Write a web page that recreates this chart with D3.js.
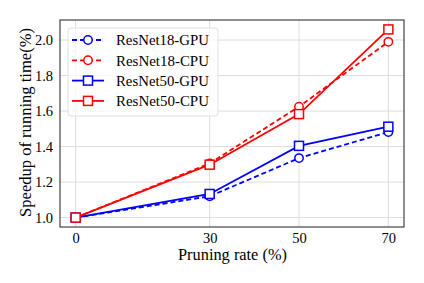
<!DOCTYPE html>
<html><head><meta charset="utf-8">
<script src="https://cdn.jsdelivr.net/npm/d3@7/dist/d3.min.js"></script>
<style>body{margin:0;background:#fff}svg{display:block}</style>
</head><body>
<svg id="c" width="424" height="283"></svg>
<script>
const rates = [0, 30, 50, 70];
const xTicks = [0, 30, 50, 70];
const yTicks = [1.0, 1.2, 1.4, 1.6, 1.8, 2.0];
const seriesNames = ["ResNet18-GPU", "ResNet18-CPU", "ResNet50-GPU", "ResNet50-CPU"];
const resnet18GPU = [1.0, 1.12, 1.335, 1.482];
const resnet18CPU = [1.0, 1.305, 1.625, 1.99];
const resnet50GPU = [1.0, 1.133, 1.404, 1.512];
const resnet50CPU = [1.0, 1.298, 1.583, 2.06];

const series = [
  {name: seriesNames[0], values: resnet18GPU, color: "#0000ff", dash: "5,3", marker: "circle"},
  {name: seriesNames[1], values: resnet18CPU, color: "#ff0000", dash: "5,3", marker: "circle"},
  {name: seriesNames[2], values: resnet50GPU, color: "#0000ff", dash: null, marker: "square"},
  {name: seriesNames[3], values: resnet50CPU, color: "#ff0000", dash: null, marker: "square"}
];

const svg = d3.select("#c");
const L = 60, R = 404, T = 20, B = 227;
const x = d3.scaleLinear().domain([-3.5, 73.5]).range([L, R]);
const y = d3.scaleLinear().domain([0.947, 2.113]).range([B, T]);
const font = "'Liberation Serif','Times New Roman',serif";

function fitWidth(sel, target, base) {
  sel.attr("font-size", base);
  const w = sel.node().getComputedTextLength();
  if (w > 0) sel.attr("font-size", base * target / w);
}

// grid
svg.append("g").selectAll("line").data(xTicks).join("line")
  .attr("x1", d => x(d)).attr("x2", d => x(d)).attr("y1", T).attr("y2", B)
  .attr("stroke", "#dcdcdc").attr("stroke-width", 1);
svg.append("g").selectAll("line").data(yTicks).join("line")
  .attr("y1", d => y(d)).attr("y2", d => y(d)).attr("x1", L).attr("x2", R)
  .attr("stroke", "#dcdcdc").attr("stroke-width", 1);

// axes
const xAxis = svg.append("g").attr("transform", `translate(0,${B})`)
  .call(d3.axisBottom(x).tickValues(xTicks).tickSize(0).tickPadding(6).tickFormat(d3.format("d")));
const yAxis = svg.append("g").attr("transform", `translate(${L},0)`)
  .call(d3.axisLeft(y).tickValues(yTicks).tickSize(0).tickPadding(7).tickFormat(d3.format(".1f")));
[xAxis, yAxis].forEach(a => {
  a.select(".domain").remove();
  a.selectAll("text").attr("font-family", font).attr("font-size", 14).attr("fill", "#000");
});
{
  const t = xAxis.selectAll("text").filter(d => d === 30);
  const w = t.node().getComputedTextLength();
  const fs = 14 * 14.5 / w;
  xAxis.selectAll("text").attr("font-size", fs).attr("dy", null).attr("y", 15.5);
  yAxis.selectAll("text").attr("font-size", fs);
}

// frame
svg.append("rect").attr("x", L).attr("y", T).attr("width", R - L).attr("height", B - T)
  .attr("fill", "none").attr("stroke", "#444").attr("stroke-width", 1.2);

// lines
const line = d3.line().x((d, i) => x(rates[i])).y(d => y(d));
function drawMarker(g, type, cx, cy, color) {
  if (type === "circle") {
    g.append("circle").attr("cx", cx).attr("cy", cy).attr("r", 4.2)
      .attr("fill", "#fff").attr("stroke", color).attr("stroke-width", 1.5);
  } else {
    g.append("rect").attr("x", cx - 4.5).attr("y", cy - 4.5).attr("width", 9).attr("height", 9)
      .attr("fill", "#fff").attr("stroke", color).attr("stroke-width", 1.5);
  }
}
series.forEach(s => {
  const g = svg.append("g");
  g.append("path").attr("d", line(s.values)).attr("fill", "none")
    .attr("stroke", s.color).attr("stroke-width", 1.8)
    .attr("stroke-dasharray", s.dash);
  s.values.forEach((v, i) => drawMarker(g, s.marker, x(rates[i]), y(v), s.color));
});

// legend
const lg = svg.append("g");
lg.append("rect").attr("x", 68).attr("y", 28).attr("width", 150).attr("height", 88).attr("rx", 3)
  .attr("fill", "#fff").attr("fill-opacity", 0.8).attr("stroke", "#e0e0e0").attr("stroke-width", 1);
series.forEach((s, i) => {
  const yy = 40 + i * 20.3;
  lg.append("line").attr("x1", 72).attr("x2", 104).attr("y1", yy).attr("y2", yy)
    .attr("stroke", s.color).attr("stroke-width", 1.8).attr("stroke-dasharray", s.dash);
  drawMarker(lg, s.marker, 88, yy, s.color);
  const t = lg.append("text").attr("x", 116).attr("y", yy + 5.2).text(s.name)
    .attr("font-family", font).attr("fill", "#000");
  fitWidth(t, 93, 15);
});

// axis labels
const xl = svg.append("text").attr("x", 232.5).attr("y", 259.5).attr("text-anchor", "middle")
  .attr("font-family", font).text("Pruning rate (%)");
fitWidth(xl, 109, 16);
const yl = svg.append("text").attr("transform", `translate(31,122.5) rotate(-90)`)
  .attr("text-anchor", "middle").attr("font-family", font)
  .text("Speedup of running time(%)");
fitWidth(yl, 189, 16);
</script>
</body></html>
